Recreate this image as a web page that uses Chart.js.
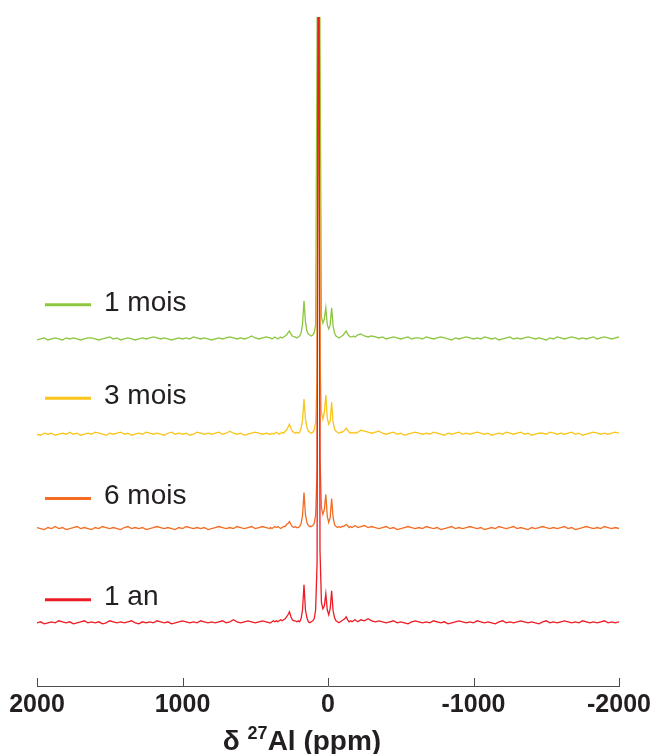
<!DOCTYPE html>
<html lang="fr">
<head>
  <meta charset="UTF-8" />
  <title>RMN 27Al</title>
  <script src="https://cdn.jsdelivr.net/npm/chart.js"></script>
  <style>
    body { margin: 0; background: #fff; }
    #wrap { width: 650px; height: 754px; }
  </style>
</head>
<body>
  <div id="wrap"><canvas id="nmr"></canvas></div>

  <script>
    // series, top to bottom
    const seriesNames = ['1 mois', '3 mois', '6 mois', '1 an'];
    const seriesColors = ['#8cc63f', '#f9c51b', '#f36c21', '#ed1c24'];
    // vertical stacking offset of each trace (same units as intensities)
    const traceOffsets = [346, 251, 157, 63];
    const tickValues = [2000, 1000, 0, -1000, -2000];

    // intensities, above each baseline
    // left part: 2000 -> 400 ppm every 25 ppm
    const leftMois1 = [-1,0,1,-1,0,1,0,-1,1,0, 1,0,-1,0,1,1,0,-1,0,1, 2,0,1,-1,0,1,0,-1,0,1, 0,1,2,1,0,1,0,-1,0,1, 0,1,0,2,1,0,1,0,-1,0, 1,0,1,2,1,0,1,0,1,3, 1,0,1,2,1];
    const leftMois3 = [0,-1,1,0,1,-1,0,1,0,2, 0,1,-1,0,1,0,2,1,0,-1, 1,0,1,2,0,1,-1,0,1,0, 2,1,0,1,0,-1,1,2,0,1, 0,1,-1,0,2,1,0,1,0,1, 2,0,1,3,1,0,1,-1,0,1, 2,1,0,1,0];
    const leftMois6 = [1,0,-1,1,0,2,0,1,-1,0, 1,2,0,1,0,-1,1,0,2,1, 0,1,0,-1,1,2,0,1,0,1, -1,0,1,2,1,0,1,0,-1,1, 0,2,1,0,1,0,1,-1,0,1, 2,1,0,1,0,2,1,0,1,2, 0,1,2,1,0];
    const leftAn1 = [0,1,-1,0,1,0,2,1,0,1, -1,0,1,2,0,1,0,1,-1,0, 2,1,0,1,0,1,2,0,-1,1, 0,1,0,2,1,0,1,-1,0,1, 2,1,0,1,0,2,1,0,1,0, 1,2,0,1,3,1,0,1,2,1, 0,1,2,1,0];

    // peak part: 395 -> -205 ppm every 10 ppm
    const peakMois1 = [1,0,1,2,1,0,1,2,1,2, 3,4,6,8,5,3,2,2,1,2, 3,6,15,38,17,8,5,4,3,4, 6,14,300,900,300,22,16,20,31,14, 10,14,31,13,6,3,2,1,2,3, 4,6,8,5,3,2,2,3,2,3, 4];
    const peakMois3 = [0,1,0,1,2,1,0,1,2,1, 3,4,7,10,6,3,2,1,2,1, 2,6,14,35,15,7,3,2,1,2, 4,12,55,900,75,22,15,22,39,16, 10,13,32,12,5,3,2,1,2,2, 3,4,6,4,2,1,2,1,2,1, 2];
    const peakMois6 = [1,0,1,2,1,2,1,0,1,2, 2,4,5,7,4,2,1,2,1,1, 2,5,13,36,14,6,3,2,2,3, 5,13,58,900,70,20,14,19,34,12, 6,11,30,11,4,2,1,2,1,2, 2,3,4,3,1,2,1,2,3,2, 1];
    const peakAn1 = [0,1,2,1,2,1,2,3,2,3, 4,6,8,11,6,3,2,2,1,2, 1,4,13,38,13,5,1,0,1,2, 4,13,60,900,72,20,14,17,29,13, 8,14,32,12,5,2,1,0,1,2, 3,4,6,3,1,2,1,2,3,2, 1];

    // right part: -225 -> -2000 ppm every 25 ppm
    const rightMois1 = [5,3,2,3,2,1,2,0,1,2, 1,0,1,2,0,1,1,0,2,1, 0,1,2,1,0,-1,1,0,1,2, 1,0,1,0,2,1,0,1,-1,0, 1,2,0,1,0,1,2,1,0,1, 0,-1,1,0,2,1,0,1,2,1, 0,1,0,1,2,0,1,2,1,0, 1,2];
    const rightMois3 = [4,3,2,1,2,3,1,0,1,2, 0,1,-1,0,1,2,1,0,1,0, 2,1,0,-1,1,0,1,2,0,1, 0,1,2,1,0,1,-1,0,1,0, 2,1,0,1,2,0,1,-1,0,1, 1,0,2,1,0,1,0,1,2,0, 1,-1,0,1,2,1,0,1,0,1, 2,1];
    const rightMois6 = [2,3,1,2,1,0,1,2,0,1, -1,0,1,2,1,0,1,0,2,1, 0,1,-1,0,1,2,0,1,0,1, 2,1,0,1,-1,0,1,0,2,1, 0,1,2,0,1,0,-1,1,0,1, 2,1,0,1,0,1,2,0,1,-1, 0,1,2,1,0,1,0,2,1,0, 1,0];
    const rightAn1 = [3,2,4,2,1,2,1,0,1,2, 0,1,0,-1,1,2,1,0,1,0, 2,1,0,1,-1,0,1,2,1,0, 1,0,2,1,0,1,0,-1,1,2, 0,1,0,1,2,1,0,1,0,-1, 1,2,0,1,0,1,2,1,0,1, 0,2,1,0,1,0,1,2,0,1, 0,1];

    const traceParts = [
      [leftMois1, peakMois1, rightMois1],
      [leftMois3, peakMois3, rightMois3],
      [leftMois6, peakMois6, rightMois6],
      [leftAn1, peakAn1, rightAn1]
    ];

    function buildTrace(parts, offset) {
      const [left, peak, right] = parts;
      const pts = [];
      left.forEach((v, i) => pts.push({ x: 2000 - 25 * i, y: offset + v }));
      peak.forEach((v, i) => pts.push({ x: 395 - 10 * i, y: offset + v }));
      right.forEach((v, i) => pts.push({ x: -2000 + 25 * (right.length - 1 - i), y: offset + v }));
      return pts;
    }

    const FONT = "'Liberation Sans', Arial, Helvetica, sans-serif";
    const AXIS_COLOR = '#4d4d4d';

    // tick marks pointing up into the plot
    const innerTicks = {
      id: 'innerTicks',
      afterDraw(chart) {
        const xs = chart.scales.x;
        const ctx = chart.ctx;
        const y0 = chart.chartArea.bottom;
        ctx.save();
        ctx.strokeStyle = AXIS_COLOR;
        ctx.lineWidth = 1;
        tickValues.forEach(v => {
          const px = Math.round(xs.getPixelForValue(v)) + 0.5;
          ctx.beginPath();
          ctx.moveTo(px, y0);
          ctx.lineTo(px, y0 - 8);
          ctx.stroke();
        });
        ctx.restore();
      }
    };

    // axis title with superscript
    const axisTitle = {
      id: 'axisTitle',
      afterDraw(chart) {
        const ctx = chart.ctx;
        const cx = (chart.chartArea.left + chart.chartArea.right) / 2 - 26;
        const y = chart.height - 4;
        const big = 'bold 28px ' + FONT;
        const small = 'bold 18px ' + FONT;
        const parts = [['\u03b4 ', big, 0], ['27', small, -11], ['Al (ppm)', big, 0]];
        ctx.save();
        ctx.fillStyle = '#231f20';
        ctx.textBaseline = 'alphabetic';
        let total = 0;
        parts.forEach(p => { ctx.font = p[1]; total += ctx.measureText(p[0]).width; });
        let x = cx - total / 2;
        parts.forEach(p => {
          ctx.font = p[1];
          ctx.fillText(p[0], x, y + p[2]);
          x += ctx.measureText(p[0]).width;
        });
        ctx.restore();
      }
    };

    // series labels placed next to each trace
    const traceLegend = {
      id: 'traceLegend',
      afterDraw(chart, args, opts) {
        const ctx = chart.ctx;
        const ys = chart.scales.y;
        ctx.save();
        seriesNames.forEach((name, i) => {
          const y = ys.getPixelForValue(traceOffsets[i] + opts.lift[i]);
          ctx.strokeStyle = seriesColors[i];
          ctx.lineWidth = 3;
          ctx.beginPath();
          ctx.moveTo(45, y + 2);
          ctx.lineTo(91, y + 2);
          ctx.stroke();
          ctx.fillStyle = '#231f20';
          ctx.font = '28px ' + FONT;
          ctx.textBaseline = 'middle';
          ctx.fillText(name, 104, y);
        });
        ctx.restore();
      }
    };

    new Chart(document.getElementById('nmr'), {
      type: 'line',
      data: {
        datasets: seriesNames.map((name, i) => ({
          label: name,
          data: buildTrace(traceParts[i], traceOffsets[i]),
          borderColor: seriesColors[i],
          borderWidth: 1.3,
          pointRadius: 0,
          tension: 0,
          order: seriesNames.length - 1 - i
        }))
      },
      options: {
        responsive: true,
        maintainAspectRatio: false,
        animation: false,
        layout: { padding: { top: 17, left: 37, right: 31, bottom: 30 } },
        scales: {
          x: {
            type: 'linear',
            reverse: true,
            min: -2000,
            max: 2000,
            afterBuildTicks: scale => { scale.ticks = tickValues.map(v => ({ value: v })); },
            afterFit: scale => { scale.paddingLeft = 0; scale.paddingRight = 0; },
            ticks: {
              autoSkip: false,
              maxRotation: 0,
              padding: 4,
              color: '#231f20',
              font: { family: FONT, size: 25, weight: 'bold' },
              callback: v => String(v)
            },
            grid: { display: true, drawOnChartArea: false, drawTicks: false },
            border: { display: true, color: AXIS_COLOR, width: 1 }
          },
          y: {
            display: false,
            min: 0,
            max: 667
          }
        },
        plugins: {
          legend: { display: false },
          tooltip: { enabled: false },
          traceLegend: { lift: [36, 38, 32, 25] }
        }
      },
      plugins: [innerTicks, axisTitle, traceLegend]
    });
  </script>
</body>
</html>
